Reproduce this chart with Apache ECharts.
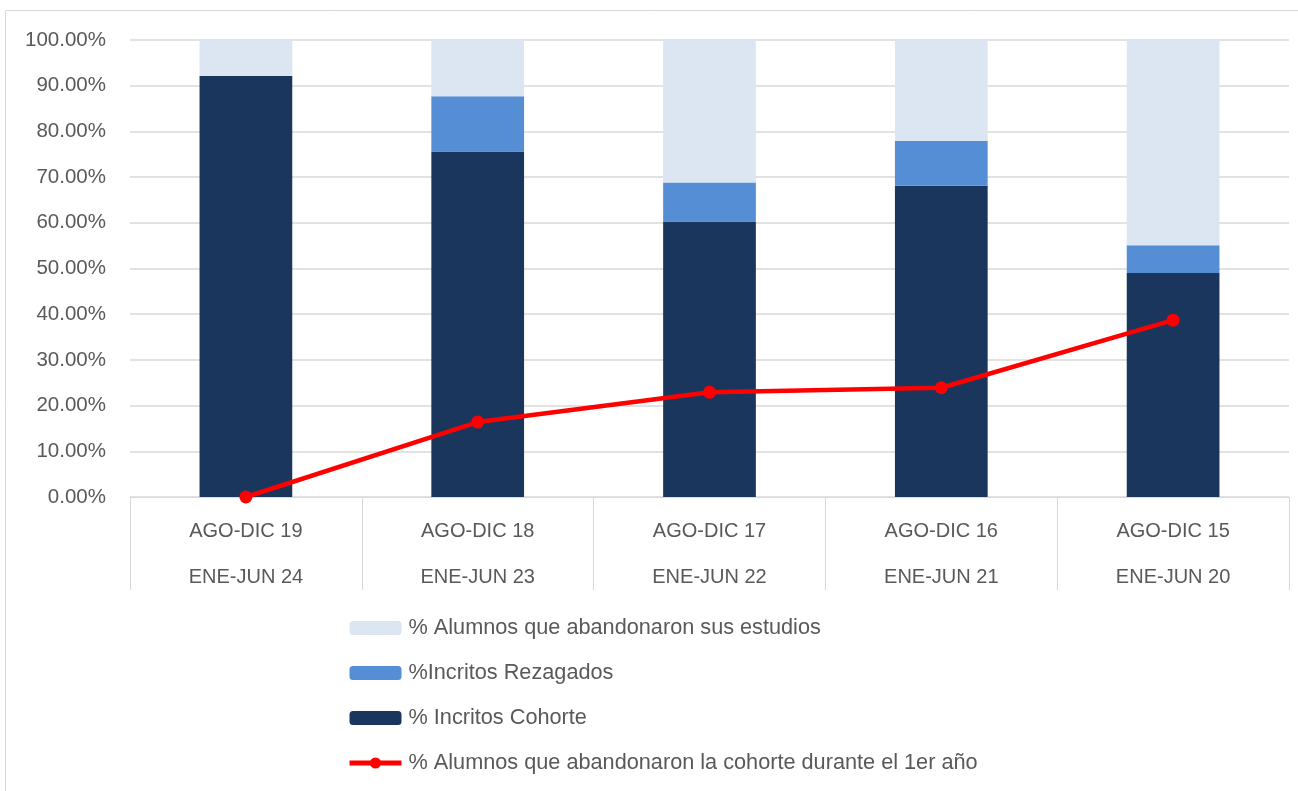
<!DOCTYPE html>
<html>
<head>
<meta charset="utf-8">
<script src="https://cdn.jsdelivr.net/npm/echarts@6/dist/echarts.min.js"></script>
<style>html,body{margin:0;padding:0;background:#fff;}#c{width:1298px;height:791px;}</style>
</head>
<body>
<div id="c"></div>
<script>
var categories = ['AGO-DIC 19\nENE-JUN 24', 'AGO-DIC 18\nENE-JUN 23', 'AGO-DIC 17\nENE-JUN 22', 'AGO-DIC 16\nENE-JUN 21', 'AGO-DIC 15\nENE-JUN 20'];
var cohorte = [92.1, 75.6, 60.3, 68.1, 49.0];
var rezagados = [0, 12.1, 8.5, 9.8, 6.1];
var abandono = [7.9, 12.3, 31.2, 22.1, 44.9];
var abandonoPrimerAnio = [0, 16.4, 22.9, 23.9, 38.7];
var seriesNames = ['% Alumnos que abandonaron sus estudios', '%Incritos Rezagados', '% Incritos Cohorte', '% Alumnos que abandonaron la cohorte durante el 1er año'];

var FONT = 'Liberation Sans';
var TXT = '#595959';
var chart = echarts.init(document.getElementById('c'));
chart.setOption({
  animation: false,
  textStyle: { fontFamily: FONT },
  graphic: [{ type: 'rect', shape: { x: 5.5, y: 10.5, width: 1400, height: 900 }, style: { fill: 'none', stroke: '#d9d9d9', lineWidth: 1 }, silent: true, z: -1 }],
  grid: { left: 130, right: 9, top: 40, bottom: 294, containLabel: false },
  xAxis: {
    type: 'category',
    data: categories,
    axisLine: { lineStyle: { color: '#d9d9d9', width: 1 } },
    axisTick: { show: true, length: 93, interval: 0, lineStyle: { color: '#d9d9d9' } },
    axisLabel: { color: TXT, fontSize: 20, fontFamily: FONT, lineHeight: 46, margin: 11, interval: 0 }
  },
  yAxis: {
    type: 'value', min: 0, max: 100, interval: 10,
    axisLine: { show: false }, axisTick: { show: false },
    splitLine: { lineStyle: { color: '#d9d9d9', width: 1.5 } },
    axisLabel: { color: TXT, fontSize: 20.5, fontFamily: FONT, margin: 24, formatter: function (v) { return v.toFixed(2) + '%'; } }
  },
  legend: {
    orient: 'vertical', left: 347, top: 617, padding: 0,
    itemWidth: 52, itemHeight: 14, itemGap: 23,
    textStyle: { color: TXT, fontSize: 21.7, fontFamily: FONT, lineHeight: 21, padding: [0, 0, 0, 2] },
    data: [seriesNames[0], seriesNames[1], seriesNames[2],
      { name: seriesNames[3], lineStyle: { width: 5 } }]
  },
  series: [
    { name: seriesNames[2], type: 'bar', stack: 's', data: cohorte, barWidth: '40%', itemStyle: { color: '#1a365d' } },
    { name: seriesNames[1], type: 'bar', stack: 's', data: rezagados, barWidth: '40%', itemStyle: { color: '#558ed5' } },
    { name: seriesNames[0], type: 'bar', stack: 's', data: abandono, barWidth: '40%', itemStyle: { color: '#dce6f2' } },
    { name: seriesNames[3], type: 'line', data: abandonoPrimerAnio, symbol: 'circle', symbolSize: 13,
      lineStyle: { color: '#ff0000', width: 4.5 }, itemStyle: { color: '#ff0000' }, z: 10 }
  ]
});
</script>
</body>
</html>
